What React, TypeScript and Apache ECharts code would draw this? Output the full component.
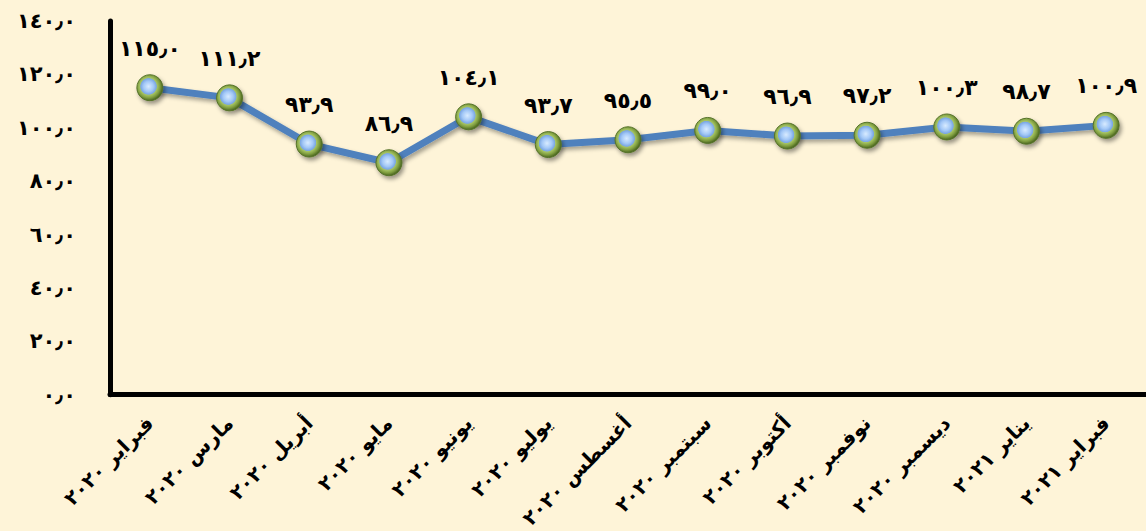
import { useEffect, useRef } from "react";
import * as echarts from "echarts";

const months = ["فبراير", "مارس", "أبريل", "مايو", "يونيو", "يوليو", "أغسطس", "سبتمبر", "أكتوبر", "نوفمبر", "ديسمبر", "يناير", "فبراير"];
const years = ["2020", "2020", "2020", "2020", "2020", "2020", "2020", "2020", "2020", "2020", "2020", "2021", "2021"];
const values = [115.0, 111.2, 93.9, 86.9, 104.1, 93.7, 95.5, 99.0, 96.9, 97.2, 100.3, 98.7, 100.9];
const yMin = 0;
const yMax = 140;
const yStep = 20;

const AR_DIGITS = ["٠", "١", "٢", "٣", "٤", "٥", "٦", "٧", "٨", "٩"];
const toArabic = (s: string) =>
  s.replace(/[0-9]/g, (d) => AR_DIGITS[Number(d)]).replace(/\./g, "٫");
const fmt = (v: number) => toArabic(v.toFixed(1));

const categories = months.map((m, i) => `${m} ${toArabic(years[i])}`);

const FONT = "DejaVu Sans";
const BG = "#FEF4D8";

export default function App() {
  const ref = useRef<HTMLDivElement>(null);
  useEffect(() => {
    if (!ref.current) return;
    const chart = echarts.init(ref.current, undefined, { renderer: "svg" });
    chart.setOption({
      animation: false,
      backgroundColor: BG,
      grid: { left: 110, right: 0, top: 21, bottom: 136, containLabel: false },
      xAxis: {
        type: "category",
        data: categories,
        boundaryGap: true,
        axisLine: { show: true, onZero: false, lineStyle: { color: "#000", width: 5 } },
        axisTick: { show: false },
        axisLabel: {
          rotate: 45,
          margin: 25,
          interval: 0,
          color: "#000",
          fontFamily: FONT,
          fontWeight: "bold",
          fontSize: 20,
        },
        splitLine: { show: false },
      },
      yAxis: {
        type: "value",
        min: yMin,
        max: yMax,
        interval: yStep,
        axisLine: { show: true, lineStyle: { color: "#000", width: 5 } },
        axisTick: { show: false },
        splitLine: { show: false },
        axisLabel: {
          formatter: (v: number) => fmt(v),
          margin: 34,
          color: "#000",
          fontFamily: FONT,
          fontWeight: "bold",
          fontSize: 21,
        },
      },
      series: [
        {
          type: "line",
          data: values,
          symbol: "circle",
          symbolSize: 26,
          lineStyle: {
            color: "#4F81BD",
            width: 7,
            shadowColor: "rgba(0,0,0,0.35)",
            shadowBlur: 4,
            shadowOffsetX: 2,
            shadowOffsetY: 3,
          },
          itemStyle: {
            color: {
              type: "radial",
              x: 0.45,
              y: 0.45,
              r: 0.55,
              colorStops: [
                { offset: 0, color: "#D8EBFF" },
                { offset: 0.35, color: "#A3C8F7" },
                { offset: 0.55, color: "#7BA7E2" },
                { offset: 0.6, color: "#A6C465" },
                { offset: 0.8, color: "#7F9E3F" },
                { offset: 1, color: "#4A6420" },
              ],
            },
            borderColor: "#56732A",
            borderWidth: 1,
            shadowColor: "rgba(0,0,0,0.4)",
            shadowBlur: 4,
            shadowOffsetX: 2,
            shadowOffsetY: 3,
          },
          label: {
            show: true,
            position: "top",
            distance: 15,
            formatter: (p: any) => fmt(p.value),
            color: "#000",
            fontFamily: FONT,
            fontWeight: "bold",
            fontSize: 22,
          },
        },
      ],
    });
    return () => chart.dispose();
  }, []);
  return (
    <div
      ref={ref}
      style={{ position: "fixed", left: 0, top: 0, width: 1146, height: 531, background: BG }}
    />
  );
}
